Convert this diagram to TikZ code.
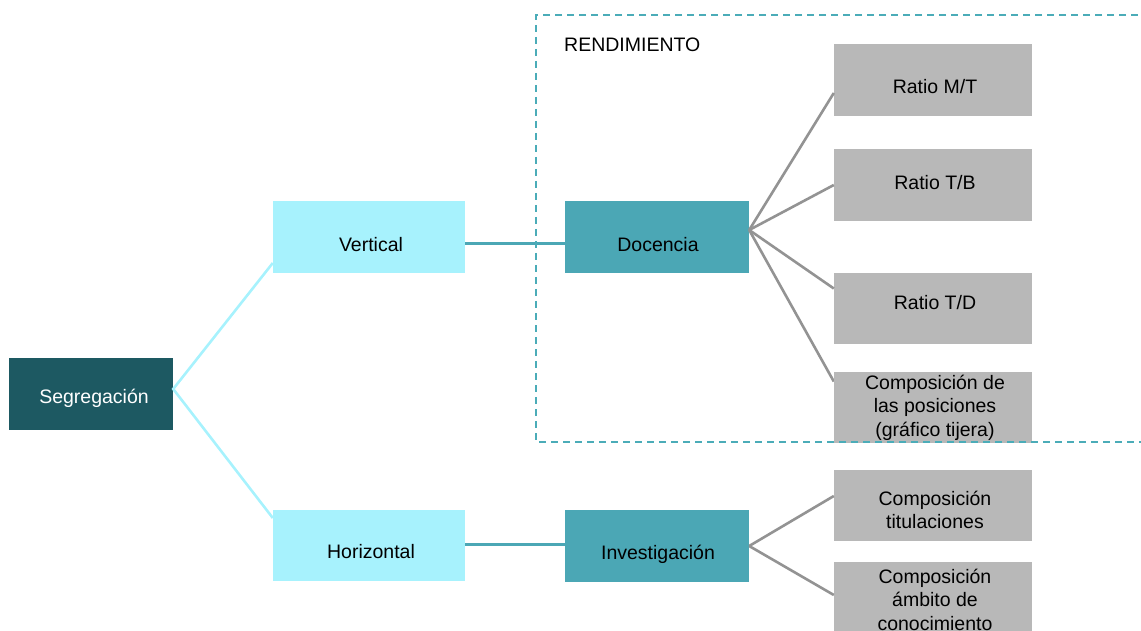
\documentclass[tikz,border=0pt]{standalone}
\usepackage{fontspec}
\setmainfont{Liberation Sans}
\usetikzlibrary{calc}
\definecolor{segcol}{HTML}{1D5962}
\definecolor{lcyan}{HTML}{A7F2FD}
\definecolor{tealc}{HTML}{4BA7B5}
\definecolor{grayb}{HTML}{B8B8B8}
\definecolor{grayl}{HTML}{939393}
\definecolor{dashc}{HTML}{4BACB8}
\begin{document}
\begin{tikzpicture}[x=1pt,y=-1pt,
  box/.style={rectangle,inner sep=0pt,draw=none},
  txt/.style={inner sep=0pt,anchor=base,font=\fontsize{19.5}{23.5}\selectfont,text=black},
  grayconn/.style={draw=grayl,line width=2.6pt},
  cyanconn/.style={draw=lcyan,line width=2.6pt},
  tealconn/.style={draw=tealc,line width=3pt}]
\useasboundingbox (0,0) rectangle (1141,631);
\clip (0,0) rectangle (1141,631);

% boxes
\node[box,fill=segcol,minimum width=164pt,minimum height=72pt] (seg) at (91,394) {};
\node[box,fill=lcyan,minimum width=192pt,minimum height=72pt] (vert) at (369,237) {};
\node[box,fill=lcyan,minimum width=192pt,minimum height=71pt] (hor) at (369,545.5) {};
\node[box,fill=tealc,minimum width=184pt,minimum height=72pt] (doc) at (657,237) {};
\node[box,fill=tealc,minimum width=184pt,minimum height=72pt] (inv) at (657,546) {};
\node[box,fill=grayb,minimum width=198pt,minimum height=72pt] (mt) at (933,80) {};
\node[box,fill=grayb,minimum width=198pt,minimum height=72pt] (tb) at (933,185) {};
\node[box,fill=grayb,minimum width=198pt,minimum height=71pt] (td) at (933,308.5) {};
\node[box,fill=grayb,minimum width=198pt,minimum height=71pt] (cp) at (933,407.5) {};
\node[box,fill=grayb,minimum width=198pt,minimum height=71pt] (ct) at (933,505.5) {};
\node[box,fill=grayb,minimum width=198pt,minimum height=76pt] (ca) at (933,600) {};

% connectors
\coordinate (segout) at ([yshift=5pt]seg.east);
\draw[cyanconn] (vert.west |- 0,263) -- (segout) -- (hor.west |- 0,518);
\draw[tealconn] ([yshift=-7pt]vert.east) -- ([yshift=-7pt]doc.west);
\draw[tealconn] ([yshift=1.5pt]hor.east) -- ([yshift=1.5pt]hor.east -| inv.west);
\coordinate (docout) at ([yshift=7pt]doc.east);
\draw[grayconn] (docout) -- ([yshift=-13pt]mt.west);
\draw[grayconn] (docout) -- (tb.west);
\draw[grayconn] (docout) -- ([yshift=20pt]td.west);
\draw[grayconn] (docout) -- ([yshift=26pt]cp.west);
\coordinate (invout) at (inv.east);
\draw[grayconn] (invout) -- ([yshift=9.5pt]ct.west);
\draw[grayconn] (invout) -- ([yshift=5pt]ca.west);

% redraw boxes on top of connector ends
\fill[grayb] (cp.south west) rectangle (cp.north east);

% dashed frame
\coordinate (fr1) at (1150,15);
\coordinate (fr2) at (536,15);
\coordinate (fr3) at (536,442);
\coordinate (fr4) at (1150,442);
\draw[dashc,line width=2.6pt,dash pattern=on 7pt off 5pt] (fr1) -- (fr2) -- (fr3) -- (fr4);

% texts
\node[txt,text=white] (segt) at (94,403) {Segregación};
\node[txt] (vertt) at (371,252) {Vertical};
\node[txt] (hort) at (371,558) {Horizontal};
\node[txt] (doct) at (658,252) {Docencia};
\node[txt] (invt) at (658,559) {Investigación};
\node[txt,anchor=base west] (rend) at (564,52) {RENDIMIENTO};
\node[txt] (mtt) at (935,94) {Ratio M/T};
\node[txt] (tbt) at (935,190) {Ratio T/B};
\node[txt] (tdt) at (935,309) {Ratio T/D};
\node[txt] (cpt) at (935,389) {\begin{tabular}[t]{@{}c@{}}Composición de\\las posiciones\\(gráfico tijera)\end{tabular}};
\node[txt] (ctt) at (935,505) {\begin{tabular}[t]{@{}c@{}}Composición\\titulaciones\end{tabular}};
\node[txt] (cat) at (935,583) {\begin{tabular}[t]{@{}c@{}}Composición\\ámbito de\\conocimiento\end{tabular}};
\end{tikzpicture}
\end{document}
